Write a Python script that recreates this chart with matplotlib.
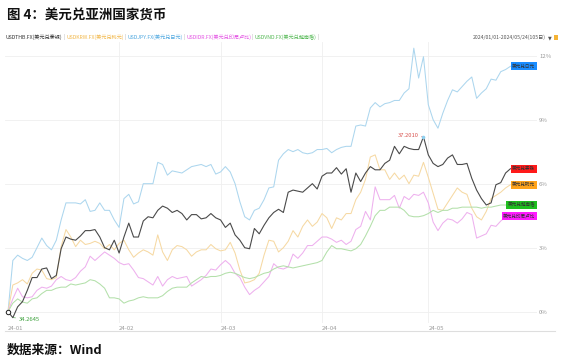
import matplotlib
matplotlib.use('Agg')
import matplotlib.pyplot as plt
import matplotlib.transforms as mtransforms
from matplotlib.lines import Line2D
from matplotlib.patches import Rectangle
import numpy as np
import pandas as pd

plt.rcParams['font.family'] = ['Noto Sans CJK SC', 'DejaVu Sans']

# ---------------- data (percent change since 2024-01-01) ----------------
dates = pd.bdate_range('2024-01-01', '2024-05-24')

usdthb = [0, -0.28, 0.23, 0.47, 1.0, 1.6, 1.6, 2.0, 2.05, 1.55, 1.7, 2.95, 3.5, 3.4, 3.35, 3.55, 3.8, 3.8, 3.85, 3.5,
          3.0, 2.9, 3.35, 2.75, 3.5, 4.15, 3.5, 3.5, 4.25, 4.45, 4.4, 4.75, 4.95, 4.85, 4.65, 4.75, 4.6, 4.3, 4.55, 4.55,
          4.35, 4.4, 4.6, 4.4, 4.3, 3.95, 4.15, 3.6, 3.35, 3.0, 2.95, 3.9, 3.65, 4.05, 4.4, 4.65, 4.8, 4.65, 5.6, 5.7,
          5.65, 5.6, 5.8, 6.0, 5.75, 6.35, 6.5, 6.5, 6.75, 6.45, 6.7, 5.6, 6.5, 6.1, 6.5, 6.8, 6.65, 6.65, 6.95, 7.1,
          7.75, 7.4, 7.75, 7.65, 7.6, 7.6, 8.2, 7.35, 6.95, 6.8, 6.9, 7.2, 7.35, 6.9, 6.9, 6.95, 6.25, 5.7, 5.3, 5.0,
          5.1, 5.95, 6.05, 6.5, 6.7]
usdkrw = [0, 1.25, 1.35, 1.5, 1.3, 1.8, 2.0, 1.95, 1.55, 1.5, 1.6, 3.05, 3.85, 3.5, 3.05, 3.35, 3.15, 3.2, 3.3, 3.2,
          2.95, 3.15, 2.9, 3.2, 3.35, 2.9, 2.55, 2.75, 2.9, 2.8, 2.65, 3.6, 2.8, 2.4, 2.9, 3.1, 3.05, 2.9, 2.6, 2.8,
          2.9, 2.9, 3.15, 2.95, 2.85, 2.9, 3.25, 2.75, 1.95, 1.35, 1.4, 1.5, 1.8, 2.65, 3.35, 3.3, 2.8, 3.0, 3.3, 3.8,
          3.5, 4.0, 4.3, 4.0, 4.2, 4.6, 4.4, 3.9, 4.4, 4.3, 4.6, 4.6, 5.25, 5.6, 6.2, 7.25, 7.35, 6.65, 6.65, 6.2,
          6.5, 6.2, 6.4, 6.0, 6.4, 6.35, 7.0, 6.3, 5.55, 4.8, 4.75, 5.1, 5.45, 5.8, 5.6, 5.5, 4.85, 4.45, 4.3, 4.7,
          5.3, 5.45, 5.6, 5.8, 5.95]
usdjpy = [0, 2.4, 2.65, 2.5, 2.4, 2.55, 3.0, 3.45, 3.1, 2.9, 3.35, 4.3, 5.1, 5.1, 5.1, 5.05, 5.25, 4.7, 4.75, 5.1,
          4.75, 4.75, 4.3, 3.95, 5.3, 5.5, 5.05, 5.15, 6.0, 6.0, 6.0, 7.0, 6.9, 6.4, 6.6, 6.55, 6.5, 6.65, 6.8, 6.85,
          6.9, 6.8, 6.9, 6.45, 6.55, 6.8, 6.55, 6.0, 5.15, 4.45, 4.3, 4.75, 4.85, 5.25, 5.8, 5.85, 7.1, 7.4, 7.6, 7.5,
          7.6, 7.45, 7.4, 7.45, 7.6, 7.6, 7.65, 7.45, 7.6, 7.7, 7.75, 7.75, 8.7, 8.75, 8.7, 9.55, 9.8, 9.6, 9.75, 9.8,
          9.9, 9.9, 10.25, 10.45, 12.35, 10.95, 11.95, 9.7, 9.0, 8.6, 9.3, 9.9, 10.4, 10.3, 10.55, 10.8, 11.0, 10.0,
          10.25, 10.45, 10.9, 10.85, 11.25, 11.35, 11.5]
usdidr = [0, 0.6, 1.1, 0.7, 0.65, 0.7, 1.0, 1.15, 1.1, 1.2, 1.5, 1.65, 1.5, 1.45, 1.6, 1.9, 2.1, 2.6, 2.4, 2.6,
          2.8, 2.65, 2.5, 2.3, 2.2, 2.25, 1.95, 1.6, 1.55, 1.4, 1.25, 1.65, 1.2, 1.5, 1.65, 1.55, 1.6, 1.65, 1.2, 1.35,
          1.5, 1.7, 2.0, 1.95, 2.2, 2.4, 2.2, 1.8, 1.6, 1.15, 0.8, 1.0, 1.15, 1.4, 1.65, 2.25, 2.05, 2.0, 2.1, 2.7,
          2.5, 2.75, 3.1, 3.1, 3.3, 3.5, 3.5, 3.4, 3.25, 3.35, 3.15, 3.3, 3.85, 4.0, 4.7, 4.3, 5.85, 5.25, 5.25, 5.25,
          5.45, 4.85, 5.4, 5.25, 5.5, 5.45, 5.6, 5.1, 4.2, 3.8, 4.15, 4.35, 4.3, 4.15, 4.35, 4.65, 4.55, 3.45, 3.55,
          3.65, 4.05, 4.0, 4.25, 4.45, 4.5]
usdvnd = [0, 0.4, 0.6, 0.45, 0.4, 0.6, 0.65, 0.85, 1.0, 1.0, 1.1, 1.15, 1.15, 1.3, 1.25, 1.3, 1.35, 1.5, 1.45, 1.3,
          1.1, 0.65, 0.65, 0.6, 0.4, 0.5, 0.55, 0.65, 0.7, 0.65, 0.65, 0.65, 0.75, 0.95, 1.1, 1.15, 1.15, 1.15, 1.35,
          1.5, 1.65, 1.6, 1.65, 1.65, 1.7, 1.8, 1.85, 1.8, 1.7, 1.6, 1.55, 1.6, 1.7, 1.8, 1.85, 2.0, 2.1, 2.15, 2.1,
          2.05, 2.1, 2.15, 2.2, 2.25, 2.3, 2.4, 2.8, 3.1, 2.95, 2.95, 2.9, 2.85, 2.95, 3.15, 3.55, 4.0, 4.5, 4.75,
          4.75, 4.9, 4.9, 4.9, 4.75, 4.5, 4.45, 4.45, 4.5, 4.6, 4.75, 4.65, 4.75, 4.75, 4.85, 4.85, 4.9, 4.9, 4.9,
          4.9, 4.85, 4.9, 4.9, 4.95, 5.0, 5.0, 5.0]

legend_labels = ['USDTHB.FX(美元兑泰铢)', 'USDKRW.FX(美元兑韩元)', 'USDJPY.FX(美元兑日元)',
                 'USDIDR.FX(美元兑印尼卢比)', 'USDVND.FX(美元兑越南盾)']
end_labels = ['美元兑泰铢', '美元兑韩元', '美元兑日元', '美元兑印尼卢比', '美元兑越南盾']
thb_max_text = '37.2010'
thb_min_text = '34.2645'
yticks = [0, 3, 6, 9, 12]

# ---------------- styling ----------------
line_colors = ['#4a4a4a', '#f6d9a3', '#acd6ee', '#eeb0ee', '#b3e0aa']
legend_colors = ['#333333', '#f2b84b', '#4fa8e0', '#e455e4', '#55b955']
box_colors = ['#ff1a1a', '#ffa31a', '#1a8cff', '#ff1aff', '#1fbf1f']

W, H = 568, 362
fig = plt.figure(figsize=(W / 100, H / 100), dpi=100)


def fx(px):
    return px / W


def fy(py):
    return 1 - py / H


ax = fig.add_axes([fx(5), fy(323), fx(537) - fx(5), fy(42) - fy(323)])
x = np.arange(len(dates))
ax.set_xlim(-0.62, 109.5)
ax.set_ylim(-0.53, 12.64)

for s in ax.spines.values():
    s.set_visible(False)

month_idx = [i for i in range(len(dates)) if i == 0 or dates[i].month != dates[i - 1].month]
ax.set_xticks(month_idx)
ax.set_xticklabels([dates[i].strftime('%y-%m') for i in month_idx], ha='left')
ax.set_yticks(yticks)
ax.set_yticklabels([f'{v}%' for v in yticks])
ax.yaxis.tick_right()
ax.tick_params(axis='both', length=0, labelsize=4.3, colors='#9a9a9a')
ax.tick_params(axis='x', pad=2)
ax.tick_params(axis='y', pad=1.5)
ax.grid(True, axis='y', color='#efefef', lw=0.6)
for m in month_idx[1:]:
    ax.axvline(m, color='#efefef', lw=0.6, zorder=0)
ax.set_axisbelow(True)

series = [usdthb, usdkrw, usdjpy, usdidr, usdvnd]
order = [2, 1, 3, 4, 0]
for k in order:
    lw = 0.8 if k == 0 else 0.75
    ax.plot(x, series[k], color=line_colors[k], lw=lw, zorder=3 + (k == 0))

# end labels
trans = mtransforms.blended_transform_factory(fig.transFigure, ax.transData)
for k in range(5):
    ax.annotate(end_labels[k], xy=(x[-1], series[k][-1]), xytext=(fx(535.3), series[k][-1]),
                textcoords=trans, ha='right', va='center', fontsize=3.3, color='#333333',
                bbox=dict(boxstyle='square,pad=0.3', fc=box_colors[k], ec='none'),
                annotation_clip=False, zorder=6)

# max / min annotations on THB
imax = int(np.argmax(usdthb))
imin = int(np.argmin(usdthb))
ax.plot(imax, usdthb[imax], marker='o', ms=1.6, color='#8fd0ef', zorder=5)
ax.annotate(thb_max_text, xy=(imax, usdthb[imax]), xytext=(-3.5, 0.6), textcoords='offset points',
            ha='right', va='center', fontsize=4.2, color='#d9534f',
            arrowprops=dict(arrowstyle='-', color='#d9534f', lw=0.4, shrinkA=0, shrinkB=0))
ax.annotate(thb_min_text, xy=(imin, usdthb[imin]), xytext=(4, -1.0), textcoords='offset points',
            ha='left', va='center', fontsize=4.2, color='#3aa03a',
            arrowprops=dict(arrowstyle='-', color='#3aa03a', lw=0.4, shrinkA=0, shrinkB=0))
ax.plot(0, usdthb[0], marker='o', ms=3.2, mfc='white', mec='#222222', mew=0.7, zorder=6)

# ---------------- header / footer ----------------
fig.text(fx(7), fy(16), '图 4：美元兑亚洲国家货币', fontsize=9.7, fontweight='bold',
         color='#111111', va='center', ha='left')

renderer = fig.canvas.get_renderer()
xcur = 6
for name, col in zip(legend_labels, legend_colors):
    t = fig.text(fx(xcur), fy(37.5), name, fontsize=3.7, color=col, va='center', ha='left')
    xcur += t.get_window_extent(renderer).width
    sp = fig.text(fx(xcur), fy(37.5), ' | ', fontsize=3.7, color='#b0b0b0', va='center', ha='left')
    xcur += sp.get_window_extent(renderer).width

fig.text(fx(546), fy(37.5), '2024/01/01-2024/05/24(105日)', fontsize=3.7, color='#555555',
         va='center', ha='right')
fig.text(fx(547.5), fy(37.5), '▼', fontsize=3.5, color='#555555', va='center', ha='left',
         family=['DejaVu Sans'])
fig.add_artist(Rectangle((fx(554), fy(40)), fx(4), fy(35) - fy(40), transform=fig.transFigure,
                         fc='#f5b335', ec='none'))

fig.add_artist(Line2D([fx(5), fx(555)], [fy(330.7), fy(330.7)], transform=fig.transFigure,
                      color='#dedede', lw=0.8))

fig.text(fx(7), fy(350), '数据来源：Wind', fontsize=9.2, fontweight='bold', color='#111111',
         va='center', ha='left')

fig.savefig('out.png', dpi=100)
